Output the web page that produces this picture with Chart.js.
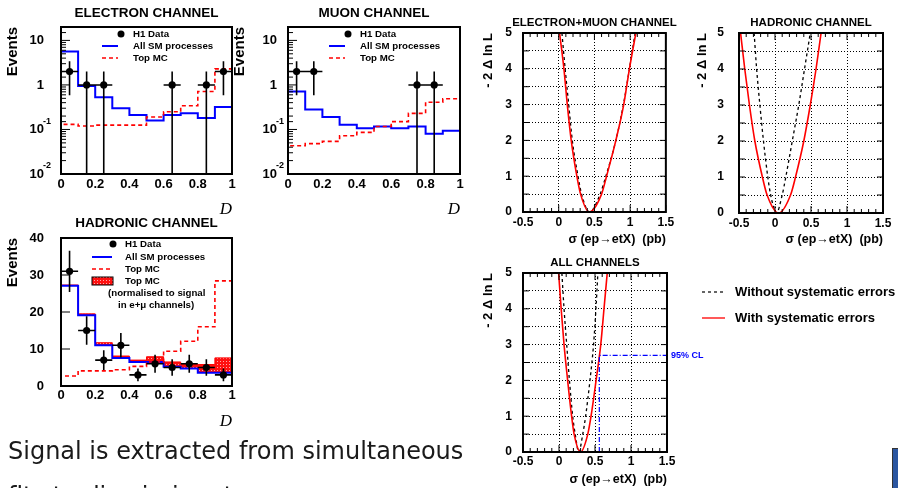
<!DOCTYPE html>
<html>
<head>
<meta charset="utf-8">
<script src="https://cdn.jsdelivr.net/npm/chart.js@4.4.1/dist/chart.umd.min.js"></script>
<style>
  body { margin: 0; width: 898px; height: 488px; overflow: hidden; background: #fff; position: relative; }
  canvas { position: absolute; }
  #txt { position: absolute; left: 8px; top: 429px; font: 24px 'DejaVu Sans', sans-serif; line-height: 45px; color: #1a1a1a; white-space: nowrap; }
  #logo { position: absolute; left: 892px; top: 448px; width: 8px; height: 42px; background: #2b56a0; border: 1px solid #333; }
</style>
</head>
<body>
<canvas id="elec" width="245" height="220" style="left:0;top:0"></canvas>
<canvas id="muon" width="245" height="220" style="left:228px;top:0"></canvas>
<canvas id="hadr" width="245" height="225" style="left:0;top:210px"></canvas>
<canvas id="llEmu" width="200" height="250" style="left:478px;top:0"></canvas>
<canvas id="llHad" width="206" height="250" style="left:692px;top:0"></canvas>
<canvas id="llAll" width="420" height="238" style="left:478px;top:250px"></canvas>
<div id="txt">Signal is extracted from simultaneous<br>fits to discriminant</div>
<div id="logo"></div>
<script>
// ---- data ----
const binEdges = [0, 0.1, 0.2, 0.3, 0.4, 0.5, 0.6, 0.7, 0.8, 0.9, 1.0];
const binHalfWidth = 0.05;

// electron channel
const elecSM  = [5.6, 0.95, 0.53, 0.30, 0.21, 0.16, 0.21, 0.23, 0.18, 0.32];
const elecTop = [0.13, 0.12, 0.125, 0.125, 0.125, 0.19, 0.25, 0.34, 0.71, 2.3];
const elecDataX = [0.05, 0.15, 0.25, 0.65, 0.85, 0.95];
const elecDataY = [2, 1, 1, 1, 1, 2];
const elecDataErr = [1.41, 1, 1, 1, 1, 1.41];

// muon channel
const muSM  = [0.71, 0.28, 0.19, 0.127, 0.107, 0.117, 0.107, 0.117, 0.08, 0.093];
const muTop = [0.043, 0.048, 0.054, 0.072, 0.086, 0.117, 0.15, 0.23, 0.41, 0.49];
const muDataX = [0.05, 0.15, 0.75, 0.85];
const muDataY = [2, 2, 1, 1];
const muDataErr = [1.41, 1.41, 1, 1];

// hadronic channel
const hadSM   = [27.1, 19.1, 11.0, 7.6, 6.5, 6.5, 5.2, 4.7, 3.6, 3.6];
const hadNorm = [27.3, 19.5, 11.7, 8.1, 7.0, 7.9, 6.5, 5.8, 5.8, 7.6];
const hadTop  = [2.7, 4.1, 4.1, 4.4, 5.3, 6.5, 9.4, 12.1, 16.0, 28.4];
const hadDataX = [0.05, 0.15, 0.25, 0.35, 0.45, 0.55, 0.65, 0.75, 0.85, 0.95];
const hadDataY = [31, 15, 7, 11, 3, 6, 5, 6, 5, 3];
const hadDataErr = [5.57, 3.87, 2.65, 3.32, 1.73, 2.45, 2.24, 2.45, 2.24, 1.73];

// likelihood scans: sigma values at these -2 dlnL levels
const llLevels = [5, 4, 3, 2, 1, 0.5, 0, 0.5, 1, 2, 3, 4, 5];
const emuSysX  = [0.012, 0.073, 0.12, 0.175, 0.254, 0.306, 0.43, 0.60, 0.67, 0.80, 0.91, 0.99, 1.08];
const emuStatX = [0.045, 0.09, 0.14, 0.19, 0.27, 0.32, 0.43, 0.58, 0.66, 0.80, 0.906, 0.99, 1.07];
const hadSysX  = [-0.478, -0.42, -0.355, -0.28, -0.175, -0.11, 0.05, 0.216, 0.285, 0.40, 0.49, 0.57, 0.64];
const hadStatX = [-0.29, -0.255, -0.21, -0.16, -0.10, -0.06, 0.02, 0.10, 0.15, 0.24, 0.33, 0.41, 0.49];
const allSysX  = [-0.005, 0.03, 0.07, 0.12, 0.175, 0.21, 0.30, 0.40, 0.445, 0.515, 0.58, 0.625, 0.67];
const allStatX = [0.04, 0.07, 0.107, 0.145, 0.19, 0.225, 0.275, 0.33, 0.37, 0.43, 0.48, 0.513, 0.54];
const cl95Level = 2.7;
const cl95Limit = 0.56;
const sigmaMin = -0.5, sigmaMax = 1.5;

// ---- helpers ----
function stepPoints(vals, base) {
  const last = binEdges[binEdges.length - 1];
  const pts = [{ x: binEdges[0], y: base }];
  vals.forEach((v, i) => pts.push({ x: binEdges[i], y: v }));
  pts.push({ x: last, y: vals[vals.length - 1] });
  pts.push({ x: last, y: base });
  return pts;
}
function errPoints(xs, ys, errs, floor) {
  const pts = [];
  xs.forEach((x, i) => {
    pts.push({ x: x - binHalfWidth, y: ys[i] }, { x: x + binHalfWidth, y: ys[i] }, { x: null, y: null });
    pts.push({ x: x, y: Math.max(ys[i] - errs[i], floor) }, { x: x, y: ys[i] + errs[i] }, { x: null, y: null });
  });
  return pts;
}
const dots = (xs, ys) => xs.map((x, i) => ({ x, y: ys[i] }));
const scan = xs => xs.map((x, i) => ({ x, y: llLevels[i] }));
const fmt = v => String(Math.round(v * 100) / 100);

function hatch() {
  const c = document.createElement('canvas');
  c.width = 3; c.height = 3;
  const g = c.getContext('2d');
  g.fillStyle = '#ff1010'; g.fillRect(0, 0, 3, 3);
  g.fillStyle = '#ffa8a8'; g.fillRect(1, 1, 1, 1);
  return g.createPattern(c, 'repeat');
}
const hatchFill = hatch();

Chart.defaults.font.family = "'Liberation Sans', Arial, sans-serif";
Chart.defaults.font.weight = 'bold';
Chart.defaults.color = '#000';
Chart.defaults.animation = false;
Chart.defaults.events = [];
Chart.defaults.plugins.legend.display = false;
Chart.defaults.plugins.tooltip.enabled = false;

// frame, inward tick marks and log exponents
const framePlugin = {
  id: 'frame',
  afterDatasetsDraw(chart) {
    const { ctx, chartArea: a, scales: { x, y } } = chart;
    ctx.save();
    ctx.strokeStyle = '#000';
    ctx.setLineDash([]);
    ctx.lineWidth = 1;
    ctx.beginPath();
    if (y.type === 'logarithmic') {
      y.ticks.forEach(t => {
        const lg = Math.log10(t.value);
        const len = Math.abs(lg - Math.round(lg)) < 1e-6 ? 9 : 5;
        const p = y.getPixelForValue(t.value);
        ctx.moveTo(a.left, p); ctx.lineTo(a.left + len, p);
      });
    } else if (x.min < 0) {
      for (let i = 0; i <= 20; i++) {
        const p = x.getPixelForValue(x.min + i * 0.1);
        const len = i % 5 === 0 ? 7 : 4;
        ctx.moveTo(p, a.bottom); ctx.lineTo(p, a.bottom - len);
        ctx.moveTo(p, a.top); ctx.lineTo(p, a.top + len);
      }
      y.ticks.forEach(t => {
        const p = y.getPixelForValue(t.value);
        ctx.moveTo(a.left, p); ctx.lineTo(a.left + 6, p);
        ctx.moveTo(a.right, p); ctx.lineTo(a.right - 6, p);
      });
    } else {
      y.ticks.forEach(t => {
        const p = y.getPixelForValue(t.value);
        ctx.moveTo(a.left, p); ctx.lineTo(a.left + 9, p);
      });
    }
    ctx.stroke();
    ctx.lineWidth = 2;
    ctx.strokeRect(a.left, a.top, a.right - a.left, a.bottom - a.top);
    ctx.restore();
  },
  afterDraw(chart) {
    const { ctx, chartArea: a, scales: { y } } = chart;
    if (y.type !== 'logarithmic') return;
    ctx.save();
    ctx.font = 'bold 9px Liberation Sans';
    ctx.textBaseline = 'middle';
    ctx.fillStyle = '#000';
    y.ticks.forEach(t => {
      const lg = Math.round(Math.log10(t.value));
      if (lg < 0 && Math.abs(Math.log10(t.value) - lg) < 1e-6) {
        ctx.fillText(String(lg), a.left - y.options.ticks.padding - 1, y.getPixelForValue(t.value) - 8);
      }
    });
    ctx.restore();
  }
};

// panel title centred over the frame, and legends inside / beside it
const boxLegend = {
  id: 'boxLegend',
  afterDraw(chart, args, o) {
    const { ctx, chartArea: a } = chart;
    ctx.save();
    if (o.title) {
      ctx.font = 'bold ' + o.titleSize + 'px Liberation Sans';
      ctx.textAlign = 'center';
      ctx.textBaseline = 'middle';
      ctx.fillStyle = '#000';
      ctx.fillText(o.title, (a.left + a.right) / 2, o.titleY);
      ctx.textAlign = 'left';
    }
    ctx.font = o.font;
    ctx.textBaseline = 'middle';
    (o.rows || []).forEach(r => {
      const y = a.top + r.y;
      if (r.kind === 'dot') {
        ctx.fillStyle = '#000';
        ctx.beginPath(); ctx.arc(a.left + r.x0, y, 3.5, 0, 2 * Math.PI); ctx.fill();
      } else if (r.kind === 'line') {
        ctx.strokeStyle = r.color; ctx.lineWidth = r.width; ctx.setLineDash(r.dash || []);
        ctx.beginPath(); ctx.moveTo(a.left + r.x0, y); ctx.lineTo(a.left + r.x1, y); ctx.stroke();
        ctx.setLineDash([]);
      } else if (r.kind === 'box') {
        ctx.fillStyle = hatchFill;
        ctx.fillRect(a.left + r.x0, y - 4, r.x1 - r.x0, 8);
        ctx.strokeStyle = '#000'; ctx.lineWidth = 1;
        ctx.strokeRect(a.left + r.x0, y - 4, r.x1 - r.x0, 8);
      }
      ctx.fillStyle = '#000';
      ctx.fillText(r.text, a.left + (r.tx !== undefined ? r.tx : o.tx), y);
    });
    if (o.cl) {
      ctx.font = 'bold 9px Liberation Sans';
      ctx.fillStyle = '#0000ff';
      ctx.fillText('95% CL', a.right + 4, chart.scales.y.getPixelForValue(cl95Level));
    }
    ctx.restore();
  }
};
Chart.register(framePlugin, boxLegend);

function histChart(id, o) {
  const datasets = [
    { label: 'H1 Data', data: dots(o.dx, o.dy), showLine: false, pointRadius: 3.6, pointBackgroundColor: '#000', pointBorderWidth: 0, order: 0 },
    { label: 'errors', data: errPoints(o.dx, o.dy, o.de, o.floor), borderColor: '#000', borderWidth: 1.6, pointRadius: 0, order: 1 },
    { label: 'All SM processes', data: stepPoints(o.sm, o.base), stepped: true, borderColor: '#0000ff', borderWidth: 2, pointRadius: 0, order: 3 },
    { label: 'Top MC', data: stepPoints(o.top, o.base), stepped: true, borderColor: '#ff0000', borderDash: [4, 3], borderWidth: 1.6, pointRadius: 0, order: 2 }
  ];
  if (o.norm) {
    datasets.push({ label: 'Top MC (normalised)', data: stepPoints(o.norm, o.base), stepped: true, borderColor: '#ff0000', borderWidth: 1, pointRadius: 0, backgroundColor: hatchFill, fill: 2, order: 4 });
  }
  new Chart(document.getElementById(id), {
    type: 'line',
    data: { datasets },
    options: {
      responsive: false,
      layout: { padding: { left: 0, right: o.padRight, top: o.top0, bottom: 0 } },
      plugins: {
        boxLegend: { title: o.title, titleSize: 13.5, titleY: 13, rows: o.legend, tx: o.legendTx, font: 'bold 9.7px Liberation Sans' }
      },
      scales: {
        x: {
          type: 'linear', min: 0, max: 1,
          afterFit: s => { s.height = o.xHeight; },
          grid: { display: false, drawTicks: false },
          border: { display: false },
          ticks: { stepSize: 0.2, padding: o.xTickPad, font: { size: 13 }, maxRotation: 0, callback: fmt },
          title: { display: true, text: 'D', align: 'end', font: { family: 'Liberation Serif', style: 'italic', weight: 'normal', size: 17 }, padding: { top: 0, bottom: o.dPad } }
        },
        y: {
          type: o.log ? 'logarithmic' : 'linear',
          min: o.yMin, max: o.yMax,
          afterFit: s => { s.width = o.yWidth; },
          grid: { display: false, drawTicks: false },
          border: { display: false },
          ticks: {
            autoSkip: false, padding: o.yTickPad, font: { size: 13 },
            stepSize: o.log ? undefined : 10,
            callback: v => {
              if (!o.log) return v;
              const lg = Math.log10(v);
              if (Math.abs(lg - Math.round(lg)) > 1e-6) return '';
              return Math.round(lg) === 0 ? '1' : '10';
            }
          },
          title: { display: true, text: 'Events', align: 'end', font: { size: 15, weight: 'bold' }, padding: { top: o.evPad, bottom: 0 } }
        }
      }
    }
  });
}

const histLegend = [
  { kind: 'dot', x0: 60, y: 7, text: 'H1 Data' },
  { kind: 'line', x0: 41, x1: 57, y: 19, color: '#0000ff', width: 2, text: 'All SM processes' },
  { kind: 'line', x0: 41, x1: 57, y: 31, color: '#ff0000', width: 1.6, dash: [4, 3], text: 'Top MC' }
];

histChart('elec', {
  title: 'ELECTRON CHANNEL', sm: elecSM, top: elecTop, dx: elecDataX, dy: elecDataY, de: elecDataErr,
  log: true, yMin: 0.01, yMax: 20, base: 1, floor: 0.001, top0: 27,
  padRight: 13, xHeight: 46, yWidth: 61, xTickPad: 3, yTickPad: 17, dPad: 0, evPad: 4,
  legend: histLegend, legendTx: 72
});
histChart('muon', {
  title: 'MUON CHANNEL', sm: muSM, top: muTop, dx: muDataX, dy: muDataY, de: muDataErr,
  log: true, yMin: 0.01, yMax: 20, base: 1, floor: 0.001, top0: 27,
  padRight: 13, xHeight: 46, yWidth: 60, xTickPad: 3, yTickPad: 11, dPad: 0, evPad: 3,
  legend: histLegend, legendTx: 72
});
histChart('hadr', {
  title: 'HADRONIC CHANNEL', sm: hadSM, top: hadTop, norm: hadNorm, dx: hadDataX, dy: hadDataY, de: hadDataErr,
  log: false, yMin: 0, yMax: 40, base: 0, floor: 0, top0: 28,
  padRight: 13, xHeight: 49, yWidth: 61, xTickPad: 2, yTickPad: 17, dPad: 3, evPad: 4,
  legend: [
    { kind: 'dot', x0: 52, y: 6, text: 'H1 Data' },
    { kind: 'line', x0: 31, x1: 51, y: 19, color: '#0000ff', width: 2, text: 'All SM processes' },
    { kind: 'line', x0: 31, x1: 51, y: 31, color: '#ff0000', width: 1.6, dash: [4, 3], text: 'Top MC' },
    { kind: 'box', x0: 31, x1: 52, y: 43, text: 'Top MC' },
    { kind: 'text', y: 55, tx: 47, text: '(normalised to signal' },
    { kind: 'text', y: 67, tx: 57, text: 'in e+\u03bc channels)' }
  ],
  legendTx: 64
});

function llChart(id, o) {
  const datasets = [
    { label: 'With systematic errors', data: scan(o.sys), borderColor: '#ff0000', borderWidth: 1.6, pointRadius: 0, cubicInterpolationMode: 'monotone', order: 1 },
    { label: 'Without systematic errors', data: scan(o.stat), borderColor: '#000', borderWidth: 1.3, borderDash: [3, 3], pointRadius: 0, cubicInterpolationMode: 'monotone', order: 2 }
  ];
  if (o.cl) {
    datasets.push({ label: '95% CL', data: [{ x: cl95Limit, y: 0 }, { x: cl95Limit, y: cl95Level }, { x: sigmaMax, y: cl95Level }], borderColor: '#0000ff', borderWidth: 1.2, borderDash: [5, 2, 1, 2], pointRadius: 0, order: 0 });
  }
  new Chart(document.getElementById(id), {
    type: 'line',
    data: { datasets },
    options: {
      responsive: false,
      layout: { padding: { left: 0, right: o.padRight, top: o.top0, bottom: 0 } },
      plugins: {
        boxLegend: { title: o.title, titleSize: 11.5, titleY: o.titleY, rows: o.legend, tx: 212, font: 'bold 13px Liberation Sans', cl: o.cl }
      },
      scales: {
        x: {
          type: 'linear', min: sigmaMin, max: sigmaMax,
          afterFit: s => { s.height = o.xHeight; },
          grid: { color: '#000', lineWidth: 1, drawTicks: false },
          border: { display: false, dash: [1, 2] },
          ticks: { stepSize: 0.5, padding: o.xTickPad, font: { size: 12 }, maxRotation: 0, callback: fmt },
          title: { display: true, text: '\u03c3 (ep\u2192etX)  (pb)', align: 'end', font: { size: 12.5, weight: 'bold' }, padding: { top: 0, bottom: o.xTitlePad } }
        },
        y: {
          type: 'linear', min: 0, max: 5,
          afterFit: s => { s.width = o.yWidth; },
          grid: { color: '#000', lineWidth: 1, drawTicks: false },
          border: { display: false, dash: [1, 2] },
          ticks: { stepSize: 0.5, autoSkip: false, padding: o.yTickPad, font: { size: 12 }, callback: v => (Number.isInteger(v) ? v : '') },
          title: { display: true, text: '- 2 \u0394 ln L', align: 'end', font: { size: 13, weight: 'bold' }, padding: { top: 3, bottom: 0 } }
        }
      }
    }
  });
}

llChart('llEmu', { title: 'ELECTRON+MUON CHANNEL', sys: emuSysX, stat: emuStatX, top0: 33, titleY: 23,
  padRight: 11, xHeight: 38, yWidth: 45, xTickPad: 3.8, yTickPad: 11, xTitlePad: 2.8 });
llChart('llHad', { title: 'HADRONIC CHANNEL', sys: hadSysX, stat: hadStatX, top0: 33, titleY: 23,
  padRight: 15, xHeight: 37, yWidth: 47, xTickPad: 3.8, yTickPad: 15, xTitlePad: 2.8 });
llChart('llAll', { title: 'ALL CHANNELS', sys: allSysX, stat: allStatX, cl: true, top0: 23, titleY: 13,
  padRight: 231, xHeight: 36, yWidth: 45, xTickPad: 2.8, yTickPad: 11, xTitlePad: 0.8,
  legend: [
    { kind: 'line', x0: 179, x1: 202, y: 19, color: '#000', width: 1.2, dash: [3, 3], text: 'Without systematic errors' },
    { kind: 'line', x0: 179, x1: 202, y: 45, color: '#ff3030', width: 1.6, text: 'With systematic errors' }
  ] });
</script>
</body>
</html>
